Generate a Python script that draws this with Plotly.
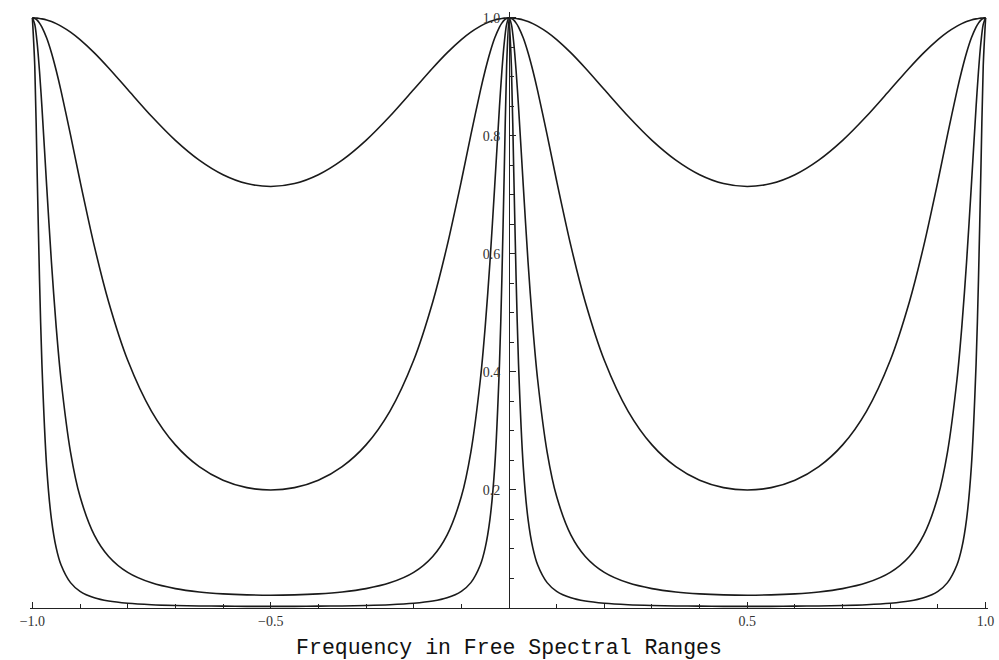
import plotly.graph_objects as go

# Frequency (in free spectral ranges)
freq = [-1, -0.995, -0.99, -0.985, -0.98, -0.97, -0.96, -0.95, -0.94, -0.92, -0.9, -0.87, -0.84, -0.8, -0.75, -0.7, -0.65, -0.6, -0.55, -0.5,
        -0.45, -0.4, -0.35, -0.3, -0.25, -0.2, -0.16, -0.13, -0.1, -0.08, -0.06, -0.05, -0.04, -0.03, -0.02, -0.015, -0.01, -0.005, 0,
        0.005, 0.01, 0.015, 0.02, 0.03, 0.04, 0.05, 0.06, 0.08, 0.1, 0.13, 0.16, 0.2, 0.25, 0.3, 0.35, 0.4, 0.45, 0.5,
        0.55, 0.6, 0.65, 0.7, 0.75, 0.8, 0.84, 0.87, 0.9, 0.92, 0.94, 0.95, 0.96, 0.97, 0.98, 0.985, 0.99, 0.995, 1]

# Transmission curves, lowest finesse first
trans_a = [1, 0.9999, 0.9996, 0.9991, 0.9984, 0.9965, 0.9938, 0.9903, 0.9861, 0.9759, 0.9632, 0.9407, 0.9151, 0.8786, 0.8333, 0.7925, 0.7590, 0.7343, 0.7193, 0.7143,
           0.7193, 0.7343, 0.7590, 0.7925, 0.8333, 0.8786, 0.9151, 0.9407, 0.9632, 0.9759, 0.9861, 0.9903, 0.9938, 0.9965, 0.9984, 0.9991, 0.9996, 0.9999, 1,
           0.9999, 0.9996, 0.9991, 0.9984, 0.9965, 0.9938, 0.9903, 0.9861, 0.9759, 0.9632, 0.9407, 0.9151, 0.8786, 0.8333, 0.7925, 0.7590, 0.7343, 0.7193, 0.7143,
           0.7193, 0.7343, 0.7590, 0.7925, 0.8333, 0.8786, 0.9151, 0.9407, 0.9632, 0.9759, 0.9861, 0.9903, 0.9938, 0.9965, 0.9984, 0.9991, 0.9996, 0.9999, 1]

trans_b = [1, 0.9990, 0.9961, 0.9912, 0.9845, 0.9658, 0.9409, 0.9108, 0.8768, 0.8017, 0.7236, 0.6132, 0.5186, 0.4198, 0.3333, 0.2764, 0.2395, 0.2165, 0.2040, 0.2000,
           0.2040, 0.2165, 0.2395, 0.2764, 0.3333, 0.4198, 0.5186, 0.6132, 0.7236, 0.8017, 0.8768, 0.9108, 0.9409, 0.9658, 0.9845, 0.9912, 0.9961, 0.9990, 1,
           0.9990, 0.9961, 0.9912, 0.9845, 0.9658, 0.9409, 0.9108, 0.8768, 0.8017, 0.7236, 0.6132, 0.5186, 0.4198, 0.3333, 0.2764, 0.2395, 0.2165, 0.2040, 0.2000,
           0.2040, 0.2165, 0.2395, 0.2764, 0.3333, 0.4198, 0.5186, 0.6132, 0.7236, 0.8017, 0.8768, 0.9108, 0.9409, 0.9658, 0.9845, 0.9912, 0.9961, 0.9990, 1]

trans_c = [1, 0.9890, 0.9575, 0.9092, 0.8493, 0.7150, 0.5859, 0.4759, 0.3876, 0.2643, 0.1888, 0.1235, 0.0874, 0.0604, 0.0426, 0.0328, 0.0272, 0.0240, 0.0223, 0.0217,
           0.0223, 0.0240, 0.0272, 0.0328, 0.0426, 0.0604, 0.0874, 0.1235, 0.1888, 0.2643, 0.3876, 0.4759, 0.5859, 0.7150, 0.8493, 0.9092, 0.9575, 0.9890, 1,
           0.9890, 0.9575, 0.9092, 0.8493, 0.7150, 0.5859, 0.4759, 0.3876, 0.2643, 0.1888, 0.1235, 0.0874, 0.0604, 0.0426, 0.0328, 0.0272, 0.0240, 0.0223, 0.0217,
           0.0223, 0.0240, 0.0272, 0.0328, 0.0426, 0.0604, 0.0874, 0.1235, 0.1888, 0.2643, 0.3876, 0.4759, 0.5859, 0.7150, 0.8493, 0.9092, 0.9575, 0.9890, 1]

trans_d = [1, 0.9184, 0.7379, 0.5559, 0.4133, 0.2388, 0.1503, 0.1019, 0.0733, 0.0430, 0.0283, 0.0173, 0.0118, 0.0080, 0.0055, 0.0042, 0.0035, 0.0031, 0.0028, 0.0028,
           0.0028, 0.0031, 0.0035, 0.0042, 0.0055, 0.0080, 0.0118, 0.0173, 0.0283, 0.0430, 0.0733, 0.1019, 0.1503, 0.2388, 0.4133, 0.5559, 0.7379, 0.9184, 1,
           0.9184, 0.7379, 0.5559, 0.4133, 0.2388, 0.1503, 0.1019, 0.0733, 0.0430, 0.0283, 0.0173, 0.0118, 0.0080, 0.0055, 0.0042, 0.0035, 0.0031, 0.0028, 0.0028,
           0.0028, 0.0031, 0.0035, 0.0042, 0.0055, 0.0080, 0.0118, 0.0173, 0.0283, 0.0430, 0.0733, 0.1019, 0.1503, 0.2388, 0.4133, 0.5559, 0.7379, 0.9184, 1]

x_tickvals = [-1, -0.5, 0.5, 1]
x_ticktext = ["\u22121.0", "\u22120.5", "0.5", "1.0"]
y_tickvals = [0.2, 0.4, 0.6, 0.8, 1.0]
y_ticktext = ["0.2", "0.4", "0.6", "0.8", "1.0"]

fig = go.Figure()
for ys in [trans_a, trans_b, trans_c, trans_d]:
    fig.add_trace(go.Scatter(x=freq, y=ys, mode="lines",
                             line=dict(color="#1a1a1a", width=1.6, shape="spline", smoothing=0.8),
                             showlegend=False, hoverinfo="skip"))

tick_font = dict(family="Liberation Serif, Times New Roman, serif", size=14, color="#333")

fig.update_layout(
    width=999, height=660,
    margin=dict(l=30, r=11, t=12, b=52, autoexpand=False),
    paper_bgcolor="white", plot_bgcolor="white",
    showlegend=False,
    xaxis=dict(range=[-1.005, 1.005], showgrid=False, zeroline=False, automargin=False,
               showline=True, linecolor="#222", linewidth=1,
               tickmode="array", tickvals=x_tickvals, ticktext=x_ticktext,
               ticks="inside", ticklen=6, tickcolor="#222", tickwidth=1,
               minor=dict(dtick=0.1, tick0=0, ticks="inside", ticklen=4, tickcolor="#222", showgrid=False),
               tickfont=tick_font,
               title=dict(text="Frequency in Free Spectral Ranges",
                          font=dict(family="Liberation Mono, Courier New, monospace", size=21.5, color="#111"),
                          standoff=12)),
    yaxis=dict(range=[0, 1.01], showgrid=False, zeroline=False, automargin=False,
               anchor="free", position=0.5, side="left",
               showline=True, linecolor="#222", linewidth=1,
               tickmode="array", tickvals=y_tickvals, ticktext=y_ticktext,
               ticks="inside", ticklen=6, tickcolor="#222", tickwidth=1,
               minor=dict(dtick=0.05, tick0=0, ticks="inside", ticklen=4, tickcolor="#222", showgrid=False),
               tickfont=tick_font, ticklabelstandoff=6),
)

fig.write_html("out.html",
               config={"displayModeBar": False, "staticPlot": True},
               post_script="document.body.style.margin='0';document.body.style.overflow='hidden';")
